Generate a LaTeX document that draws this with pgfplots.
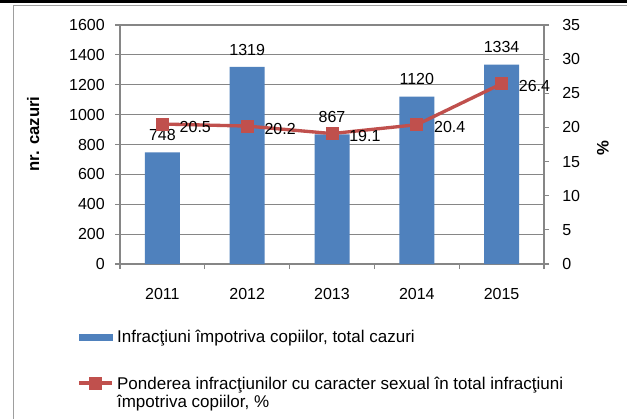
\documentclass[border=0pt]{standalone}
\usepackage{pgfplots}
\pgfplotsset{compat=1.18}
\usepackage{fontspec}
\setmainfont{Liberation Sans}
\definecolor{barblue}{HTML}{4F81BD}
\definecolor{linered}{HTML}{C0504D}
\definecolor{gridgray}{HTML}{868686}
\pgfplotsset{
  /pgf/number format/assume math mode=true,
  /pgf/number format/1000 sep={},
  redlegend/.style={legend image code/.code={\path[draw=none,fill=none] (0pt,-14pt) rectangle (24.75pt,14pt); \draw[##1, mark repeat=2, mark phase=2] plot coordinates {(0pt,8pt) (12.375pt,8pt) (24.75pt,8pt)};}},
  bluelegend/.style={legend image code/.code={\fill[barblue] (0pt,-2.25pt) rectangle (24.75pt,2.25pt);}},
}
\newcommand{\lblfont}{\fontsize{12}{14}\selectfont}
\begin{document}
\begin{tikzpicture}
\useasboundingbox (0,0) rectangle (470.25pt,314.25pt);
\fill[white] (0,0) rectangle (470.25pt,314.25pt);
\fill[black] (0,312pt) rectangle (470.25pt,314.25pt);
\draw[gridgray!80, line width=0.75pt] (9.75pt,0) -- (9.75pt,310.5pt) -- (470.25pt,310.5pt);

\begin{axis}[
  at={(90pt,116.25pt)}, anchor=south west,
  scale only axis, width=318pt, height=179.25pt,
  xmin=-0.5, xmax=4.5, ymin=0, ymax=1600,
  axis x line*=bottom, axis y line*=left,
  axis line style={gridgray, line width=0.9pt, -},
  xtick={0,...,4}, xticklabels={2011,2012,2013,2014,2015},
  major x tick style={draw=none},
  minor xtick={-0.5,0.5,...,4.5},
  ytick={0,200,...,1600},
  tick align=outside,
  major tick length=3.75pt, minor tick length=3.75pt,
  tick style={gridgray, line width=0.9pt},
  ymajorgrids, grid style={gridgray, line width=0.9pt},
  every tick label/.append style={font=\lblfont},
  xticklabel style={anchor=center, yshift=-18.75pt},
  yticklabel style={anchor=east, inner sep=0pt, xshift=-7.5pt},
  ylabel={\bfseries nr. cazuri},
  ylabel style={at={(axis description cs:-0.205,0.544)}, anchor=center, font=\fontsize{12.5}{14}\selectfont},
  ybar, bar width=26.25pt,
  nodes near coords,
  every node near coord/.append style={font=\lblfont, anchor=south, inner sep=0pt, yshift=8.5pt, text=black},
]
\addplot[fill=barblue, draw=none] coordinates {(0,748) (1,1319) (2,867) (3,1120) (4,1334)};
\end{axis}

\begin{axis}[
  at={(90pt,116.25pt)}, anchor=south west,
  scale only axis, width=318pt, height=179.25pt,
  xmin=-0.5, xmax=4.5, ymin=0, ymax=35,
  axis x line=none, axis y line*=right,
  axis line style={gridgray, line width=0.9pt, -},
  ytick={0,5,...,35},
  tick align=outside, major tick length=3.75pt,
  tick style={gridgray, line width=0.9pt},
  every tick label/.append style={font=\lblfont},
  yticklabel style={anchor=west, inner sep=0pt, xshift=9.75pt},
  ylabel={\bfseries\%},
  ylabel style={at={(axis description cs:1.139,0.485)}, anchor=center, font=\fontsize{12.5}{14}\selectfont},
  legend cell align=left,
  legend style={at={(axis description cs:-0.101,-0.275)}, anchor=north west,
    draw=none, fill=none, inner sep=0pt, row sep=23pt,
    font=\fontsize{12.75}{13.5}\selectfont,
    nodes={inner sep=0pt},
    cells={align=left, anchor=west}},
  /tikz/every odd column/.append style={column sep=2.5pt},
]
\addlegendimage{bluelegend}
\addlegendentry{Infracţiuni împotriva copiilor, total cazuri}
\addplot[linered, line width=2.5pt, mark=square*, mark size=4.5pt,
  mark options={solid, line width=0.5pt, fill=linered},
  nodes near coords={\pgfmathprintnumber[fixed,fixed zerofill,precision=1]{\pgfplotspointmeta}},
  every node near coord/.append style={font=\lblfont, anchor=west, inner sep=0pt, xshift=12.75pt, yshift=-2pt, text=black},
  redlegend
] coordinates {(0,20.5) (1,20.2) (2,19.1) (3,20.4) (4,26.4)};
\addlegendentry{Ponderea infracţiunilor cu caracter sexual în total infracţiuni\\împotriva copiilor, \%}
\end{axis}
\end{tikzpicture}
\end{document}
